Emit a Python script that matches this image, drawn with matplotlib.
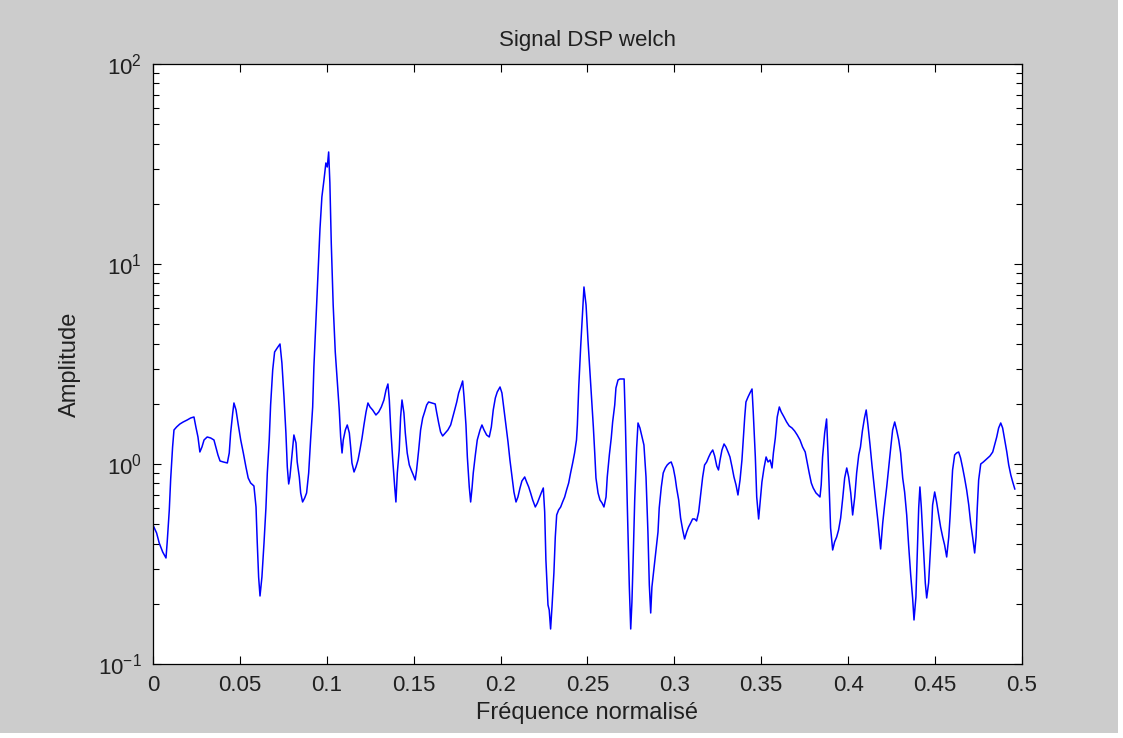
import numpy as np
import matplotlib
matplotlib.use("Agg")
import matplotlib.pyplot as plt
from matplotlib.patches import Rectangle
from matplotlib.ticker import LogLocator, MultipleLocator, NullFormatter

plt.rcParams['font.family'] = ['Liberation Sans', 'DejaVu Sans']
plt.rcParams['axes.unicode_minus'] = False

# PSD estimate (Welch): normalised frequency and level in dB
freq = [
    0.0000, 0.0021, 0.0036, 0.0056, 0.0075, 0.0082, 0.0094, 0.0102, 0.0113, 0.0121,
    0.0136, 0.0155, 0.0174, 0.0197, 0.0217, 0.0236, 0.0247, 0.0259, 0.0270, 0.0282,
    0.0294, 0.0312, 0.0332, 0.0351, 0.0362, 0.0374, 0.0386, 0.0405, 0.0428, 0.0439,
    0.0447, 0.0459, 0.0466, 0.0478, 0.0491, 0.0505, 0.0520, 0.0535, 0.0548, 0.0562,
    0.0581, 0.0593, 0.0600, 0.0608, 0.0616, 0.0627, 0.0639, 0.0650, 0.0658, 0.0669,
    0.0677, 0.0689, 0.0700, 0.0715, 0.0731, 0.0742, 0.0754, 0.0765, 0.0773, 0.0781,
    0.0788, 0.0800, 0.0811, 0.0823, 0.0830, 0.0842, 0.0850, 0.0861, 0.0873, 0.0884,
    0.0896, 0.0907, 0.0919, 0.0926, 0.0938, 0.0949, 0.0961, 0.0972, 0.0984, 0.0995,
    0.1003, 0.1011, 0.1018, 0.1026, 0.1037, 0.1049, 0.1060, 0.1072, 0.1080, 0.1088,
    0.1095, 0.1107, 0.1118, 0.1130, 0.1138, 0.1145, 0.1157, 0.1168, 0.1180, 0.1191,
    0.1203, 0.1214, 0.1226, 0.1237, 0.1249, 0.1264, 0.1283, 0.1299, 0.1314, 0.1329,
    0.1341, 0.1352, 0.1360, 0.1368, 0.1379, 0.1391, 0.1398, 0.1406, 0.1417, 0.1425,
    0.1433, 0.1444, 0.1452, 0.1463, 0.1475, 0.1486, 0.1498, 0.1509, 0.1517, 0.1529,
    0.1540, 0.1552, 0.1563, 0.1575, 0.1586, 0.1605, 0.1624, 0.1632, 0.1644, 0.1655,
    0.1667, 0.1682, 0.1697, 0.1713, 0.1724, 0.1736, 0.1748, 0.1759, 0.1771, 0.1782,
    0.1790, 0.1801, 0.1809, 0.1820, 0.1828, 0.1836, 0.1843, 0.1855, 0.1866, 0.1882,
    0.1893, 0.1905, 0.1920, 0.1935, 0.1947, 0.1958, 0.1970, 0.1981, 0.1997, 0.2008,
    0.2020, 0.2031, 0.2043, 0.2054, 0.2066, 0.2077, 0.2089, 0.2100, 0.2112, 0.2123,
    0.2139, 0.2150, 0.2162, 0.2173, 0.2185, 0.2200, 0.2212, 0.2223, 0.2234, 0.2246,
    0.2254, 0.2261, 0.2273, 0.2280, 0.2288, 0.2296, 0.2307, 0.2315, 0.2323, 0.2334,
    0.2346, 0.2357, 0.2369, 0.2380, 0.2392, 0.2403, 0.2415, 0.2426, 0.2437, 0.2442,
    0.2450, 0.2461, 0.2473, 0.2480, 0.2492, 0.2503, 0.2515, 0.2526, 0.2534, 0.2542,
    0.2549, 0.2561, 0.2572, 0.2584, 0.2595, 0.2607, 0.2614, 0.2626, 0.2637, 0.2645,
    0.2657, 0.2664, 0.2676, 0.2687, 0.2711, 0.2718, 0.2729, 0.2741, 0.2749, 0.2756,
    0.2764, 0.2772, 0.2783, 0.2791, 0.2802, 0.2814, 0.2825, 0.2837, 0.2848, 0.2856,
    0.2864, 0.2871, 0.2883, 0.2894, 0.2906, 0.2913, 0.2925, 0.2936, 0.2948, 0.2959,
    0.2971, 0.2982, 0.2994, 0.3005, 0.3013, 0.3025, 0.3036, 0.3048, 0.3059, 0.3071,
    0.3082, 0.3094, 0.3105, 0.3117, 0.3128, 0.3140, 0.3151, 0.3163, 0.3174, 0.3186,
    0.3198, 0.3209, 0.3221, 0.3232, 0.3244, 0.3254, 0.3263, 0.3274, 0.3286, 0.3297,
    0.3309, 0.3320, 0.3332, 0.3343, 0.3355, 0.3366, 0.3378, 0.3389, 0.3397, 0.3405,
    0.3412, 0.3424, 0.3435, 0.3447, 0.3454, 0.3466, 0.3474, 0.3485, 0.3493, 0.3504,
    0.3516, 0.3528, 0.3539, 0.3551, 0.3562, 0.3570, 0.3581, 0.3592, 0.3604, 0.3615,
    0.3631, 0.3646, 0.3661, 0.3677, 0.3692, 0.3707, 0.3723, 0.3738, 0.3753, 0.3765,
    0.3776, 0.3788, 0.3799, 0.3815, 0.3827, 0.3838, 0.3845, 0.3853, 0.3865, 0.3876,
    0.3884, 0.3891, 0.3899, 0.3911, 0.3922, 0.3934, 0.3945, 0.3957, 0.3969, 0.3980,
    0.3992, 0.4003, 0.4015, 0.4026, 0.4038, 0.4049, 0.4061, 0.4071, 0.4082, 0.4094,
    0.4104, 0.4114, 0.4126, 0.4137, 0.4149, 0.4160, 0.4172, 0.4187, 0.4199, 0.4210,
    0.4222, 0.4233, 0.4245, 0.4256, 0.4268, 0.4279, 0.4291, 0.4302, 0.4314, 0.4325,
    0.4337, 0.4348, 0.4360, 0.4371, 0.4379, 0.4390, 0.4398, 0.4406, 0.4413, 0.4421,
    0.4432, 0.4444, 0.4452, 0.4463, 0.4471, 0.4479, 0.4486, 0.4498, 0.4509, 0.4521,
    0.4532, 0.4544, 0.4555, 0.4567, 0.4579, 0.4586, 0.4593, 0.4601, 0.4613, 0.4624,
    0.4636, 0.4647, 0.4659, 0.4670, 0.4682, 0.4694, 0.4705, 0.4717, 0.4728, 0.4736,
    0.4743, 0.4751, 0.4763, 0.4778, 0.4797, 0.4816, 0.4832, 0.4843, 0.4855, 0.4866,
    0.4878, 0.4889, 0.4901, 0.4913, 0.4924, 0.4936, 0.4947, 0.4959,
]
psd_db = [
    -3.05, -3.45, -3.95, -4.40, -4.70, -3.90, -2.30, -0.75, 0.85, 1.70,
    1.85, 2.00, 2.10, 2.20, 2.30, 2.35, 1.85, 1.35, 0.60, 0.85,
    1.20, 1.35, 1.30, 1.20, 0.85, 0.45, 0.15, 0.10, 0.05, 0.55,
    1.55, 2.55, 3.05, 2.70, 1.95, 1.20, 0.55, -0.15, -0.70, -0.95,
    -1.10, -2.15, -3.90, -5.65, -6.60, -5.65, -3.95, -2.20, -0.45, 1.20,
    2.95, 4.70, 5.60, 5.80, 6.00, 5.05, 3.35, 1.55, -0.15, -1.00,
    -0.65, 0.45, 1.45, 1.05, 0.10, -0.65, -1.45, -1.90, -1.70, -1.45,
    -0.45, 1.20, 2.85, 4.85, 7.20, 9.45, 11.75, 13.35, 14.20, 15.05,
    14.85, 15.60, 14.05, 11.05, 7.95, 5.60, 4.20, 2.70, 1.35, 0.55,
    1.20, 1.70, 1.95, 1.55, 0.80, 0.05, -0.40, -0.15, 0.20, 0.70,
    1.30, 1.95, 2.60, 3.05, 2.85, 2.70, 2.45, 2.60, 2.85, 3.20,
    3.70, 4.00, 3.20, 1.80, 0.30, -1.15, -1.90, -0.45, 0.70, 2.35,
    3.20, 2.55, 1.55, 0.55, -0.05, -0.30, -0.55, -0.80, -0.30, 0.70,
    1.70, 2.30, 2.60, 2.95, 3.10, 3.05, 3.00, 2.60, 2.05, 1.60,
    1.40, 1.55, 1.70, 1.95, 2.30, 2.70, 3.10, 3.55, 3.85, 4.15,
    3.35, 1.95, 0.35, -1.15, -1.90, -1.20, -0.45, 0.45, 1.20, 1.70,
    1.95, 1.70, 1.45, 1.35, 1.85, 2.70, 3.30, 3.60, 3.85, 3.55,
    2.70, 1.95, 1.10, 0.20, -0.65, -1.40, -1.90, -1.65, -1.20, -0.85,
    -0.65, -0.90, -1.15, -1.45, -1.80, -2.15, -1.95, -1.70, -1.45, -1.20,
    -2.40, -4.80, -7.05, -7.30, -8.25, -7.15, -5.45, -3.65, -2.55, -2.30,
    -2.15, -1.90, -1.65, -1.30, -0.95, -0.45, 0.05, 0.55, 1.20, 1.95,
    3.85, 5.85, 7.80, 8.85, 7.95, 6.20, 4.55, 3.05, 1.85, 0.55,
    -0.70, -1.45, -1.80, -1.95, -2.15, -1.65, -0.65, 0.45, 1.30, 2.10,
    2.95, 3.80, 4.20, 4.25, 4.25, 2.20, -1.95, -6.15, -8.25, -6.90,
    -4.45, -1.80, 0.80, 2.05, 1.80, 1.35, 0.95, -0.65, -3.40, -6.05,
    -7.45, -6.15, -5.20, -4.30, -3.40, -2.20, -1.15, -0.45, -0.20, -0.05,
    0.05, 0.10, -0.20, -0.70, -1.20, -1.80, -2.70, -3.30, -3.75, -3.40,
    -3.15, -2.95, -2.75, -2.75, -2.85, -2.40, -1.55, -0.65, -0.05, 0.10,
    0.35, 0.55, 0.70, 0.40, -0.10, -0.30, 0.20, 0.70, 1.00, 0.85,
    0.60, 0.35, -0.15, -0.65, -1.05, -1.55, -0.80, 0.20, 1.30, 2.35,
    3.10, 3.35, 3.55, 3.75, 2.60, 0.35, -1.65, -2.75, -1.95, -0.90,
    -0.20, 0.35, 0.10, 0.20, -0.20, 0.55, 1.30, 2.35, 2.85, 2.60,
    2.35, 2.10, 1.90, 1.80, 1.65, 1.45, 1.20, 0.85, 0.60, 0.05,
    -0.45, -0.95, -1.20, -1.45, -1.55, -1.65, -1.05, 0.35, 1.55, 2.25,
    0.55, -1.15, -3.20, -4.30, -3.90, -3.65, -3.30, -2.70, -1.70, -0.70,
    -0.20, -0.65, -1.45, -2.55, -1.65, -0.45, 0.45, 0.85, 1.65, 2.30,
    2.70, 1.95, 0.95, -0.05, -1.05, -1.95, -2.90, -4.25, -2.95, -2.05,
    -1.15, -0.20, 0.80, 1.70, 2.10, 1.70, 1.20, 0.55, -0.70, -1.40,
    -2.55, -4.05, -5.55, -6.70, -7.80, -6.65, -4.40, -2.20, -1.15, -2.15,
    -3.95, -5.95, -6.70, -5.95, -4.70, -3.40, -2.05, -1.40, -1.90, -2.55,
    -3.15, -3.65, -4.05, -4.65, -3.65, -2.70, -1.55, -0.30, 0.45, 0.55,
    0.60, 0.30, -0.20, -0.70, -1.30, -2.05, -2.95, -3.70, -4.45, -3.65,
    -2.20, -0.80, 0.00, 0.10, 0.25, 0.40, 0.60, 0.95, 1.35, 1.80,
    2.05, 1.80, 1.20, 0.60, -0.05, -0.55, -0.90, -1.25,
]

amplitude = 10 ** (np.array(psd_db) / 10)
txt = '#202020'

fig = plt.figure(figsize=(11.23, 7.38), dpi=100, facecolor='#cccccc')
# thin white border at right and bottom, as in the screenshot
fig.patches.append(Rectangle((0.9952, 0), 0.0048, 1, transform=fig.transFigure,
                             facecolor='white', edgecolor='none', zorder=-1))
fig.patches.append(Rectangle((0, 0), 1, 0.0068, transform=fig.transFigure,
                             facecolor='white', edgecolor='none', zorder=-1))

ax = fig.add_axes([0.1362, 0.1003, 0.7738, 0.8130])
ax.semilogy(freq, amplitude, color='#0000ff', linewidth=1.1)

ax.set_xlim(0, 0.5)
ax.set_ylim(0.1, 100)
ax.xaxis.set_major_locator(MultipleLocator(0.05))
ax.xaxis.set_major_formatter(plt.FuncFormatter(lambda v, p: ('%g' % round(v, 2))))
ax.yaxis.set_major_locator(LogLocator(base=10, numticks=10))
ax.yaxis.set_minor_locator(LogLocator(base=10, subs=np.arange(2, 10), numticks=20))
ax.yaxis.set_minor_formatter(NullFormatter())

ax.tick_params(which='both', direction='in', top=True, right=True, width=0.8,
               colors='black', labelcolor=txt, labelsize=16)
ax.tick_params(which='major', length=6, pad=8)
ax.tick_params(which='minor', length=4)
for s in ax.spines.values():
    s.set_linewidth(0.9)

ax.set_title('Signal DSP welch', fontsize=16, pad=13, color=txt)
ax.set_xlabel('Fréquence normalisé', fontsize=17, color=txt, labelpad=4)
ax.set_ylabel('Amplitude', fontsize=17, color=txt, labelpad=12)

fig.savefig('out.png', dpi=100, facecolor=fig.get_facecolor())
